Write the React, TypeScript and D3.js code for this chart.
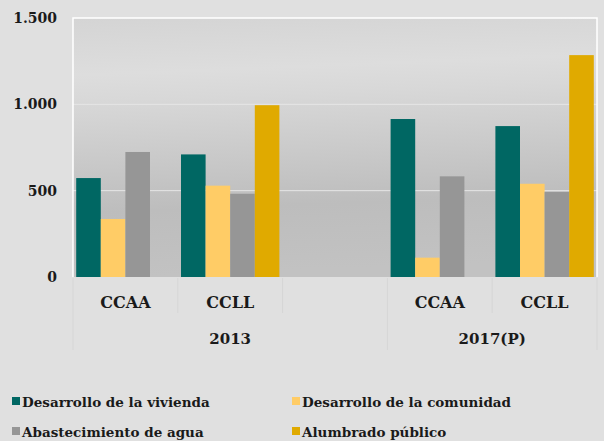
import React from "react";
import * as d3 from "d3";

const categories = ["CCAA", "CCLL", "", "CCAA", "CCLL"];
const groups = [
  { label: "2013", span: [0, 2] },
  { label: "2017(P)", span: [3, 4] },
];
const seriesNames = [
  "Desarrollo de la vivienda",
  "Desarrollo de la comunidad",
  "Abastecimiento de agua",
  "Alumbrado público",
];
const seriesColors = ["#006763", "#ffcc66", "#969696", "#e0aa00"];
const vivienda = [573, 710, null, 915, 874];
const comunidad = [336, 529, null, 112, 540];
const agua = [724, 482, null, 583, 492];
const alumbrado = [null, 995, null, null, 1285];
const yTicks = [0, 500, 1000, 1500];

const W = 604;
const H = 441;
const left = 73;
const right = 597;
const top = 18;
const bottom = 277;
const font = "DejaVu Serif";

export default function App() {
  const series = [vivienda, comunidad, agua, alumbrado];
  const x = d3.scaleBand<number>().domain(d3.range(categories.length)).range([left, right]).paddingInner(0).paddingOuter(0);
  const bw = x.bandwidth();
  const inner = d3.scaleBand<number>().domain(d3.range(4)).range([3.2, bw - 3.2]).padding(0);
  const y = d3.scaleLinear().domain([0, 1500]).range([bottom, top]);
  const fmt = (v: number) => d3.format(",")(v).replace(/,/g, ".");

  return (
    <svg width={W} height={H} style={{ position: "absolute", left: 0, top: 0 }}>
      <defs>
        <linearGradient id="bg" x1="0" y1="0" x2="0.08" y2="1">
          <stop offset="0" stopColor="#d4d4d4" />
          <stop offset="0.22" stopColor="#dddddd" />
          <stop offset="0.32" stopColor="#d8d8d8" />
          <stop offset="0.75" stopColor="#bdbdbd" />
          <stop offset="1" stopColor="#c2c2c2" />
        </linearGradient>
      </defs>
      <rect x={0} y={0} width={W} height={H} fill="#e0e0e0" />
      <rect x={left} y={top} width={right - left} height={bottom - top} fill="url(#bg)" />
      {yTicks.filter((t) => t > 0 && t < 1500).map((t) => (
        <line key={t} x1={left} x2={right} y1={y(t)} y2={y(t)} stroke="#e6e6e6" strokeWidth={1} />
      ))}
      {series.map((s, si) =>
        s.map((v, ci) =>
          v == null ? null : (
            <rect
              key={`${si}-${ci}`}
              x={(x(ci) as number) + (inner(si) as number)}
              y={y(v)}
              width={inner.bandwidth()}
              height={bottom - y(v)}
              fill={seriesColors[si]}
            />
          )
        )
      )}
      <path d={`M${left},${bottom} V${top} H${right} V${bottom}`} fill="none" stroke="#ffffff" strokeWidth={1.5} />
      {yTicks.map((t) => (
        <text key={t} x={57} y={y(t)} dy="0.35em" textAnchor="end" fontFamily={font} fontWeight="bold" fontSize={14} fill="#1a1a1a">
          {fmt(t)}
        </text>
      ))}
      {d3.range(categories.length + 1).map((i) => {
        const xx = i < categories.length ? (x(i) as number) : right;
        const full = i === 0 || i === categories.length || groups.some((g) => g.span[0] === i);
        return <line key={i} x1={xx} x2={xx} y1={bottom + 1} y2={full ? 350 : 313} stroke="#d6d6d6" strokeWidth={1} />;
      })}
      {categories.map((c, i) => (
        <text key={i} x={(x(i) as number) + bw / 2} y={308} textAnchor="middle" fontFamily={font} fontWeight="bold" fontSize={16} fill="#1a1a1a">
          {c}
        </text>
      ))}
      {groups.map((g) => {
        const x0 = x(g.span[0]) as number;
        const x1 = (x(g.span[1]) as number) + bw;
        return (
          <text key={g.label} x={(x0 + x1) / 2} y={344} textAnchor="middle" fontFamily={font} fontWeight="bold" fontSize={15} fill="#1a1a1a">
            {g.label}
          </text>
        );
      })}
      {seriesNames.map((n, i) => {
        const col = i % 2;
        const row = Math.floor(i / 2);
        const lx = col === 0 ? 12 : 292;
        const ly = 402 + row * 30;
        return (
          <g key={n}>
            <rect x={lx} y={ly - 5} width={8} height={8} fill={seriesColors[i]} />
            <text x={lx + 10} y={ly} dy="0.35em" fontFamily={font} fontWeight="bold" fontSize={13.5} fill="#1a1a1a">
              {n}
            </text>
          </g>
        );
      })}
    </svg>
  );
}
